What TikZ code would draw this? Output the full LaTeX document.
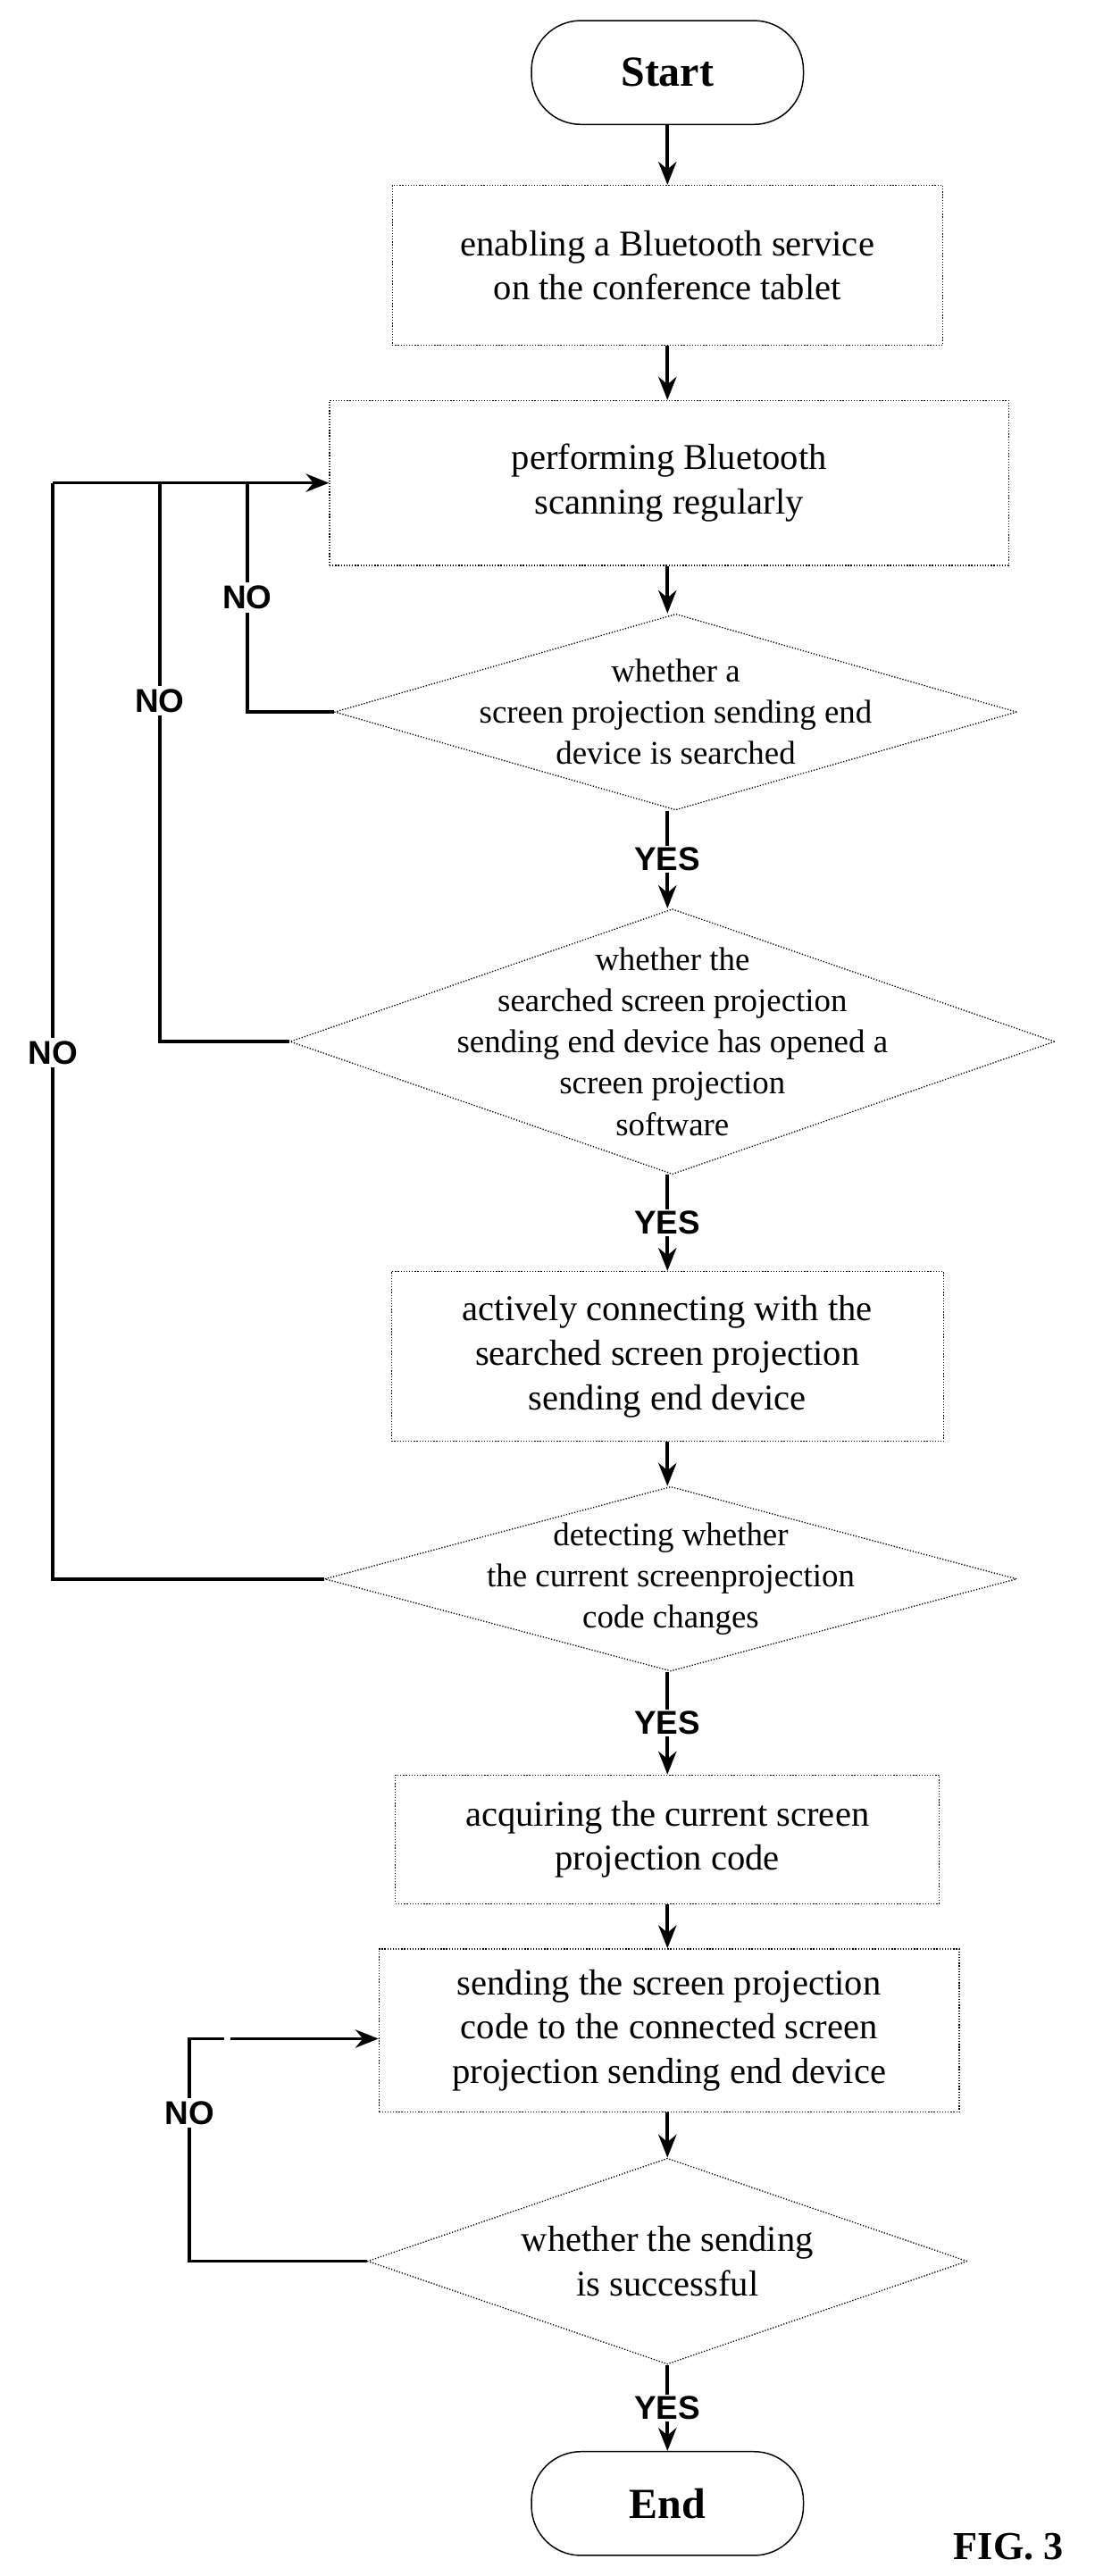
\documentclass[tikz,border=0pt]{standalone}
\usepackage{fontspec}
\setmainfont{Liberation Serif}
\newfontfamily\lab{Liberation Sans}
\usetikzlibrary{shapes.geometric,arrows.meta}
\begin{document}
\begin{tikzpicture}[x=1pt,y=-1pt,
 box/.style={draw,densely dotted,line width=0.7pt,align=center,font=\fontsize{22}{27}\selectfont,inner sep=0},
 term/.style={draw,line width=0.8pt,rounded corners=30pt,font=\fontsize{26}{30}\selectfont\bfseries,minimum width=165pt,minimum height=63pt},
 dia/.style={draw,densely dotted,line width=0.7pt,diamond,inner sep=0},
 dtxt/.style={align=center,font=\fontsize{20}{25}\selectfont},
 ar/.style={line width=2pt,-{Stealth[length=14pt,width=11pt]}},
 ln/.style={line width=2pt},
 yn/.style={font=\lab\fontsize{20}{24}\selectfont\bfseries}]
\useasboundingbox (0,0) rectangle (664,1563);
\node[term] (start) at (405,44) {Start};
\node[box,minimum width=334pt,minimum height=97pt] (b1) at (405,161) {enabling a Bluetooth service\\on the conference tablet};
\node[box,minimum width=412pt,minimum height=100pt] (b2) at (406,293) {performing Bluetooth\\scanning regularly};
\node[dia,minimum width=414pt,minimum height=119pt] (d1) at (410,432) {};
\node[dtxt] (t1) at (410,432) {whether a\\screen projection sending end\\device is searched};
\node[dia,minimum width=464pt,minimum height=161pt] (d2) at (408,632) {};
\node[dtxt] (t2) at (408,632) {whether the\\searched screen projection\\sending end device has opened a\\screen projection\\software};
\node[box,minimum width=335pt,minimum height=103pt] (b3) at (405,823) {actively connecting with the\\searched screen projection\\sending end device};
\node[dia,minimum width=420pt,minimum height=112pt] (d3) at (407,958) {};
\node[dtxt] (t3) at (407,958) {detecting whether\\the current screenprojection\\code changes};
\node[box,minimum width=330pt,minimum height=78pt] (b4) at (405,1116) {acquiring the current screen\\projection code};
\node[box,minimum width=352pt,minimum height=99pt] (b5) at (406,1232) {sending the screen projection\\code to the connected screen\\projection sending end device};
\node[dia,minimum width=364pt,minimum height=125pt] (d4) at (405,1372) {};
\node[dtxt,font=\fontsize{22}{27}\selectfont] (t4) at (405,1372) {whether the sending\\is successful};
\node[term] (end) at (405,1519) {End};
\node[font=\fontsize{24}{28}\selectfont\bfseries] (fig) at (612,1545) {FIG. 3};
\draw[ar] (start) -- (b1);
\draw[ar] (b1) -- (b2.north -| b1);
\draw[ar] (b2.south -| b1) -- (d1.north -| b1);
\draw[ar] (d1.south -| b1) -- (d2.north -| b1) node[yn,midway,fill=white,inner sep=1pt] (y1) {YES};
\draw[ar] (d2.south -| b1) -- (b3) node[yn,midway,fill=white,inner sep=1pt] (y2) {YES};
\draw[ar] (b3) -- (d3.north -| b3);
\draw[ar] (d3.south -| b3) -- (b4) node[yn,midway,fill=white,inner sep=1pt] (y3) {YES};
\draw[ar] (b4) -- (b5.north -| b4);
\draw[ar] (b5.south -| b4) -- (d4.north -| b4);
\draw[ar] (d4.south -| b4) -- (end) node[yn,midway,fill=white,inner sep=1pt] (y4) {YES};
\coordinate (j) at (b2.west);
\draw[ln] (d1.west) -- (150,432) -- (150,293) node[yn,pos=0.5,fill=white,inner sep=2pt] (n1) {NO};
\draw[ln] (d2.west) -- (97,632) -- (97,293) node[yn,pos=0.61,fill=white,inner sep=2pt] (n2) {NO};
\draw[ln] (d3.west) -- (32,958) -- (32,293) node[yn,pos=0.48,fill=white,inner sep=2pt] (n3) {NO};
\draw[ar] (32,293) -- (j);
\draw[ar] (d4.west) -- (115,1372) -- (115,1237) -- (b5.west |- 0,1237) node[pos=0.2,yn,fill=white,inner sep=2pt] {};
\node[yn,fill=white,inner sep=2pt] (n4) at (115,1282) {NO};
\end{tikzpicture}
\end{document}
